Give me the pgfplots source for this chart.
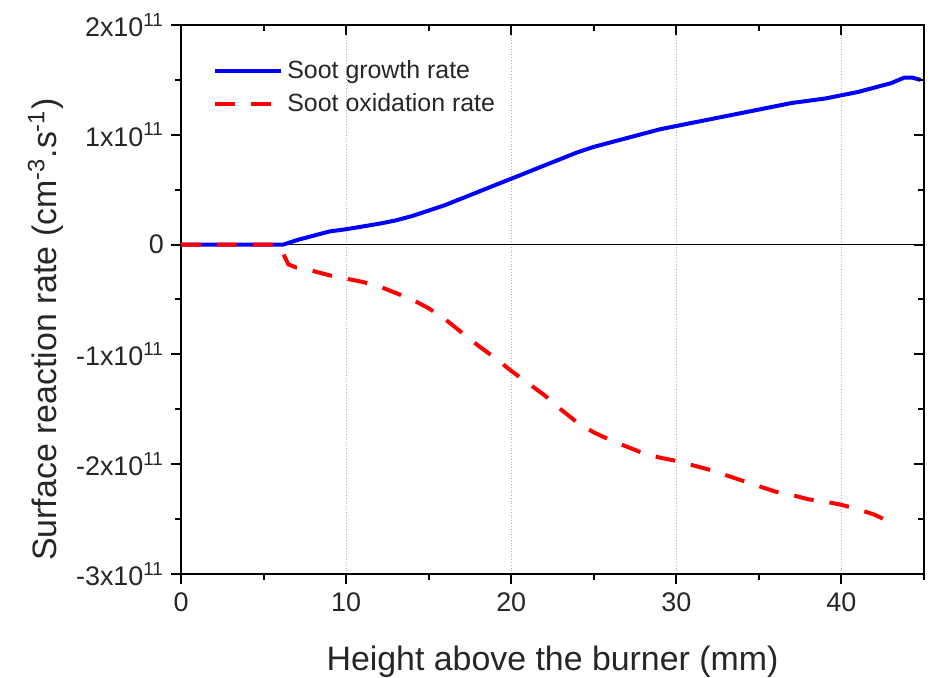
\documentclass[border=0pt]{standalone}
\usepackage{fontspec}
\setmainfont{Liberation Sans}
\usepackage{pgfplots}
\pgfplotsset{compat=1.18}
\usetikzlibrary{calc}
\begin{document}
\begin{tikzpicture}
\begin{axis}[
  name=ax,
  scale only axis,
  width=371.5bp, height=274.5bp,
  xmin=0, xmax=45, ymin=-3, ymax=2,
  axis line style={black, line width=1.2bp},
  xtick={0,10,20,30,40},
  minor xtick={5,15,25,35,45},
  ytick={-3,-2,-1,0,1,2},
  minor ytick={-2.5,-1.5,-0.5,0.5,1.5},
  yticklabels={-3x10\textsuperscript{11},-2x10\textsuperscript{11},-1x10\textsuperscript{11},0,1x10\textsuperscript{11},2x10\textsuperscript{11}},
  xtick pos=bottom, ytick pos=left,
  tick align=outside,
  major tick length=5bp, minor tick length=3bp,
  tick style={black, line width=1bp},
  /pgf/number format/assume math mode=true,
  tick label style={font=\fontsize{13.5}{16}\selectfont, text=black!85},
  xticklabel style={yshift=-1bp},
  xmajorgrids,
  major grid style={gray!60, densely dotted, line width=0.6bp},
  xlabel={Height above the burner (mm)},
  ylabel={Surface reaction rate (cm\textsuperscript{-3}.s\textsuperscript{-1})},
  label style={font=\fontsize{17}{20}\selectfont, text=black!85},
  xlabel style={at={(axis description cs:0.5,-0.175)}, anchor=base},
  ylabel style={at={(axis description cs:-0.182,0.445)}, anchor=center},
  legend style={draw=none, fill=none, at={(0.035,0.95)}, anchor=north west,
    font=\fontsize{12.5}{15}\selectfont, text=black!85, row sep=2bp},
  legend cell align=left,
  legend image code/.code={\draw[#1] (0bp,0bp) -- (33bp,0bp);},
]
\addplot[black, line width=0.8bp, forget plot] coordinates {(0,0) (45,0)};
\addplot[blue, line width=2bp] coordinates {
(0,0) (2,0) (4,0) (6.2,0) (7,0.04) (8,0.08) (9,0.12) (10,0.14) (11,0.165) (12,0.19) (13,0.22) (14,0.26) (15,0.31) (16,0.36) (17,0.42) (18,0.48) (19,0.54) (20,0.6) (21,0.66) (22,0.72) (23,0.78) (24,0.84) (25,0.89) (26,0.93) (27,0.97) (28,1.01) (29,1.05) (30,1.08) (31,1.11) (32,1.14) (33,1.17) (34,1.2) (35,1.23) (36,1.26) (37,1.29) (38,1.31) (39,1.33) (40,1.36) (41,1.39) (42,1.43) (43,1.47) (43.8,1.52) (44.3,1.52) (44.8,1.5)
};
\addlegendentry{Soot growth rate}
\addplot[red, line width=2bp, dash pattern=on 10bp off 8bp] coordinates {
(0,0) (5.5,0) (6,-0.02) (6.5,-0.18) (7,-0.21) (8,-0.24) (9,-0.28) (10,-0.31) (11,-0.34) (12,-0.38) (13,-0.44) (14,-0.5) (15,-0.58) (16,-0.68) (17,-0.8) (18,-0.92) (19,-1.03) (20,-1.15) (21,-1.26) (22,-1.37) (23,-1.5) (24,-1.62) (25,-1.71) (26,-1.78) (27,-1.84) (28,-1.9) (29,-1.94) (30,-1.97) (31,-2.01) (32,-2.05) (33,-2.1) (34,-2.15) (35,-2.2) (36,-2.25) (37,-2.28) (38,-2.32) (39,-2.34) (40,-2.37) (41,-2.41) (42,-2.46) (43,-2.53)
};
\addlegendentry{Soot oxidation rate}
\end{axis}
\begin{axis}[
  scale only axis,
  width=371.5bp, height=274.5bp,
  xmin=0, xmax=45, ymin=-3, ymax=2,
  axis line style={draw=none},
  xtick={0,10,20,30,40},
  minor xtick={5,15,25,35,45},
  ytick={-3,-2,-1,0,1,2},
  minor ytick={-2.5,-1.5,-0.5,0.5,1.5},
  xtick pos=top, ytick pos=right,
  tick align=inside,
  major tick length=5bp, minor tick length=3bp,
  tick style={black, line width=1bp},
  xticklabels={}, yticklabels={},
]
\end{axis}
\pgfresetboundingbox
\path[use as bounding box] ($(ax.south west)+(-90.5bp,-52bp)$) rectangle ($(ax.north east)+(4.5bp,12.5bp)$);
\end{tikzpicture}
\end{document}
